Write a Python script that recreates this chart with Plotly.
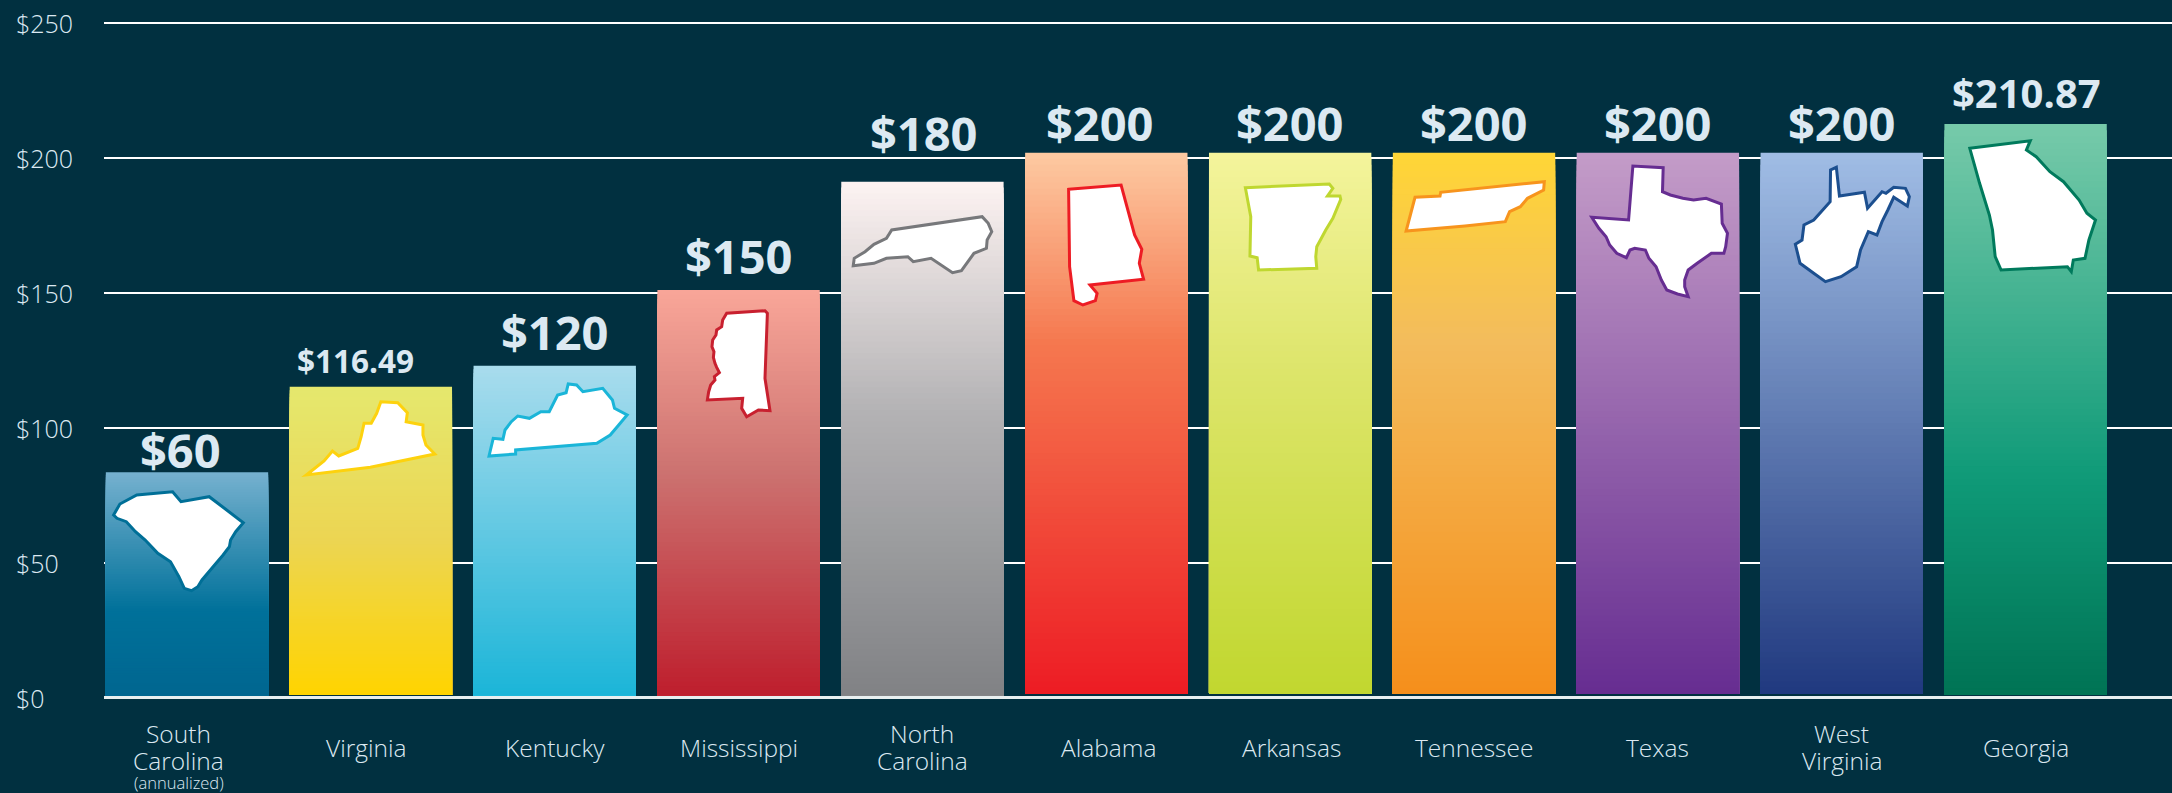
import plotly.graph_objects as go

# ---------- data ----------
states = ["South Carolina", "Virginia", "Kentucky", "Mississippi", "North Carolina", "Alabama",
          "Arkansas", "Tennessee", "Texas", "West Virginia", "Georgia"]
bar_tops = [83.4, 115.1, 122.9, 150.9, 191.0, 201.8, 201.8, 201.8, 201.8, 201.8, 212.4]
bar_bases = [0.7, 0.9, 0.8, 0.8, 0.8, 1.4, 1.4, 1.4, 1.4, 1.4, 1.1]
value_labels = ["$60", "$116.49", "$120", "$150", "$180", "$200", "$200", "$200", "$200", "$200", "$210.87"]
y_ticks = [0, 50, 100, 150, 200, 250]
y_tick_labels = ["$0", "$50", "$100", "$150", "$200", "$250"]
cat_lines = [["South", "Carolina"], ["Virginia"], ["Kentucky"], ["Mississippi"], ["North", "Carolina"],
             ["Alabama"], ["Arkansas"], ["Tennessee"], ["Texas"], ["West", "Virginia"], ["Georgia"]]
cat_note = "(annualized)"

# gradient stops, (position from top, colour)
gradients = [
    [(0, "#76b1cf"), (0.62, "#00719a"), (1, "#006690")],
    [(0, "#e5e86e"), (0.5, "#ecd552"), (1, "#ffd400")],
    [(0, "#a9dced"), (1, "#1bb5d8")],
    [(0, "#f9a699"), (0.45, "#cc7270"), (1, "#be1e2d")],
    [(0, "#fdf3f2"), (0.45, "#b3b2b4"), (1, "#808285")],
    [(0, "#fdcaa2"), (0.35, "#f5784f"), (1, "#ed1c24")],
    [(0, "#f4f49c"), (0.4, "#dde56b"), (1, "#c1d72f")],
    [(0, "#ffd636"), (0.35, "#f3bc5c"), (1, "#f58f1b")],
    [(0, "#c49cc8"), (1, "#662d91")],
    [(0, "#a0bde5"), (1, "#20397f")],
    [(0, "#77caaa"), (0.62, "#0f9a78"), (1, "#007354")],
]
outline_colors = ["#006f97", "#fdd20e", "#1ab5d8", "#c8202f", "#77787b", "#ed1c24",
                  "#bfd730", "#f7941d", "#662d91", "#1c4f8f", "#007a5c"]

# state silhouettes: pixel-traced outlines (ox, oy, sx, sy, points)
outlines = [
    (0, 380, 2.376, 3, [(270,405),(285,372),(325,345),(410,335),(430,365),(497,350),(578,428),(560,455),(548,480),(545,500),(530,525),(510,555),(480,600),(470,620),(455,632),(438,625),(425,590),(405,545),(375,520),(345,480),(322,455),(300,425),(278,415)]),
    (0, 380, 2.376, 3, [(728,285),(770,243),(790,213),(805,228),(850,205),(858,170),(865,130),(882,130),(895,100),(905,65),(945,68),(968,98),(965,125),(1005,135),(1005,165),(1012,195),(1033,222),(880,262)]),
    (0, 380, 2.376, 3, [(1162,228),(1172,175),(1195,178),(1200,150),(1215,125),(1230,108),(1258,115),(1285,95),(1305,95),(1325,45),(1345,38),(1350,12),(1370,15),(1385,35),(1432,25),(1455,60),(1460,85),(1490,105),(1470,135),(1450,165),(1418,190),(1225,210),(1225,222)]),
    (650, 280, 3, 3, [(172,360),(176,335),(182,315),(195,300),(193,290),(208,278),(200,262),(195,250),(190,232),(192,215),(186,200),(188,180),(198,165),(200,150),(215,140),(218,120),(230,100),(345,92),(352,100),(345,295),(360,392),(325,390),(290,410),(275,385),(278,355)]),
    (640, 90, 2.8, 3, [(597,527),(600,505),(630,485),(655,463),(690,445),(705,420),(958,380),(975,400),(985,425),(972,450),(970,475),(935,490),(900,542),(875,548),(815,505),(765,515),(750,500),(690,505),(655,520)]),
    (640, 90, 2.8, 3, [(1200,298),(1347,285),(1385,435),(1405,478),(1398,520),(1410,568),(1260,585),(1280,610),(1275,632),(1240,645),(1215,632),(1203,530)]),
    (1190, 90, 2.8, 3, [(155,293),(390,282),(400,295),(385,318),(420,318),(422,328),(400,385),(380,420),(355,470),(352,500),(355,535),(192,540),(188,503),(168,498),(170,380)]),
    (1190, 90, 2.8, 3, [(605,423),(630,322),(700,318),(702,307),(992,275),(990,300),(945,325),(925,350),(895,365),(883,395),(770,408)]),
    (1190, 90, 2.8, 3, [(1125,382),(1228,390),(1240,228),(1325,233),(1323,305),(1345,315),(1380,325),(1410,330),(1445,325),(1488,342),(1490,400),(1505,430),(1500,470),(1495,490),(1460,490),(1420,520),(1395,540),(1385,570),(1385,590),(1395,620),(1365,612),(1335,600),(1320,570),(1305,530),(1285,505),(1275,480),(1245,475),(1232,480),(1222,503),(1195,490),(1175,465),(1165,440),(1145,415)]),
    (1560, 60, 2.562, 3, [(603,553),(620,540),(625,495),(650,480),(692,425),(693,330),(708,322),(716,408),(780,397),(788,445),(825,395),(835,400),(855,382),(885,385),(895,410),(890,438),(855,412),(840,450),(825,485),(812,525),(790,515),(770,570),(760,620),(720,650),(680,665),(650,640),(615,610)]),
    (1560, 60, 2.562, 3, [(1050,265),(1205,242),(1195,270),(1220,290),(1255,335),(1290,365),(1330,420),(1350,460),(1372,480),(1355,540),(1345,595),(1315,600),(1310,635),(1300,620),(1130,630),(1115,590),(1108,510),(1100,465),(1075,370)]),
]

# ---------- style and layout ----------
W, H = 2172, 793
BG = "#013040"
TEXT = "#dce9f2"
FONT = "Open Sans"
PLOT_LEFT = 104
X0_PX, X_PITCH = 187, 183.86
Y0_PX, Y_SCALE = 697.5, 2.70
BAR_WIDTH = 0.883
N_SEG = 90

value_sizes = [47, 31.5, 47, 47, 47, 47, 47, 47, 47, 47, 40]
value_gaps = [22.5, 26, 33.5, 34, 48.5, 30, 30, 30, 30, 30, 31.5]
value_xshift = [-7, -15, 0, 0, 2, -6, 0, 0, 0, 0, 1]
cat_xshift = [-9, -5, 0, 0, 0, 2, 1, 0, 0, 0, 0]
LINE_GAP = 27.7
CAT_CENTER_PX = 748


def lerp(stops, t):
    for (a, ca), (b, cb) in zip(stops, stops[1:]):
        if t <= b:
            f = (t - a) / (b - a)
            c1 = [int(ca[k:k + 2], 16) for k in (1, 3, 5)]
            c2 = [int(cb[k:k + 2], 16) for k in (1, 3, 5)]
            return "rgb(%d,%d,%d)" % tuple(round(p + (q - p) * f) for p, q in zip(c1, c2))
    return stops[-1][1]


fig = go.Figure()

# vertical gradient: painted as nested bars, full height first, each next one shorter and closer to the bottom colour
for s in range(N_SEG, 0, -1):
    frac = s / N_SEG
    fig.add_trace(go.Bar(
        x=states,
        y=[(t - b) * frac for t, b in zip(bar_tops, bar_bases)],
        base=bar_bases,
        width=BAR_WIDTH,
        marker=dict(color=[lerp(g, 1 - (s - 0.5) / N_SEG) for g in gradients], line=dict(width=0)),
        hoverinfo="skip",
        showlegend=False,
    ))

annotations = []
# y-axis labels, left aligned as in the reference
for v, label in zip(y_ticks, y_tick_labels):
    annotations.append(dict(text=label, xref="paper", x=-(PLOT_LEFT - 14) / (W - PLOT_LEFT), xanchor="left",
                            yref="y", y=v, yanchor="middle", showarrow=False,
                            font=dict(family=FONT, size=25, color=TEXT, weight=300)))

for i, st in enumerate(states):
    annotations.append(dict(text=value_labels[i], x=st, xref="x", y=bar_tops[i], yref="y", yanchor="middle",
                            yshift=value_gaps[i], xshift=value_xshift[i], showarrow=False,
                            font=dict(family=FONT, size=value_sizes[i], color=TEXT, weight=700)))
    lines = cat_lines[i]
    first = CAT_CENTER_PX - 1 - LINE_GAP * (len(lines) - 1) / 2
    for k, line in enumerate(lines):
        annotations.append(dict(text=line, x=st, xref="x", xshift=cat_xshift[i], showarrow=False,
                                yref="paper", y=1 - (first + k * LINE_GAP) / H, yanchor="middle",
                                font=dict(family=FONT, size=24.5, color=TEXT, weight=300)))
annotations.append(dict(text=cat_note, x=states[0], xref="x", xshift=-8, showarrow=False,
                        yref="paper", y=1 - 782 / H, yanchor="middle",
                        font=dict(family=FONT, size=16.5, color=TEXT, weight=300)))

shapes = []
for i, (st, (ox, oy, sx, sy, pts)) in enumerate(zip(states, outlines)):
    cx = X0_PX + X_PITCH * i
    d = []
    for n, (zx, zy) in enumerate(pts):
        dx = ox + zx / sx - cx
        dy = Y0_PX - (oy + zy / sy)
        d.append(("M" if n == 0 else "L") + f"{dx:.1f},{dy:.1f}")
    shapes.append(dict(type="path", path=" ".join(d) + " Z", xref="x", yref="y",
                       xsizemode="pixel", ysizemode="pixel", xanchor=st, yanchor=0,
                       fillcolor="#ffffff", line=dict(color=outline_colors[i], width=3), layer="above"))

x_lo = -(X0_PX - PLOT_LEFT) / X_PITCH
x_hi = (W - X0_PX) / X_PITCH
fig.update_layout(
    width=W, height=H,
    margin=dict(l=PLOT_LEFT, r=0, t=0, b=0, pad=0),
    paper_bgcolor=BG, plot_bgcolor=BG,
    barmode="overlay", showlegend=False,
    annotations=annotations, shapes=shapes,
    xaxis=dict(type="category", categoryorder="array", categoryarray=states, range=[x_lo, x_hi],
               showticklabels=False, showgrid=False, zeroline=False, ticks="", fixedrange=True),
    yaxis=dict(range=[-(H - Y0_PX) / Y_SCALE, Y0_PX / Y_SCALE], tickmode="array", tickvals=y_ticks,
               showticklabels=False, showgrid=True, gridcolor="#ffffff", gridwidth=2,
               zeroline=True, zerolinecolor="#e8eff0", zerolinewidth=3, ticks="", fixedrange=True),
)
fig.write_html("out.html", config=dict(displayModeBar=False),
               post_script="document.body.style.margin='0';document.documentElement.style.overflow='hidden';")
